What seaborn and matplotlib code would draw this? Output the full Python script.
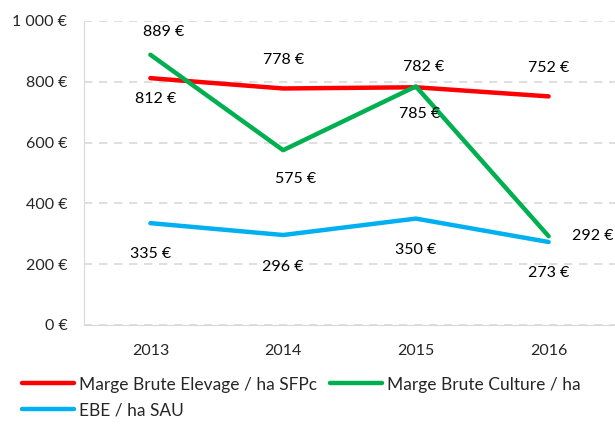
import pandas as pd
import matplotlib
matplotlib.use('Agg')
import matplotlib.pyplot as plt
import seaborn as sns

years = ['2013', '2014', '2015', '2016']
elevage = [812, 778, 782, 752]
culture = [889, 575, 785, 292]
ebe = [335, 296, 350, 273]
series_names = ['Marge Brute Elevage / ha SFPc', 'Marge Brute Culture / ha', 'EBE / ha SAU']
colors = ['#FF0000', '#00B050', '#00B0F0']

# label offsets in pixels (dx, dy) for each point
offsets = [
    [(5, -21), (0, 28), (8, 20), (0, 28)],
    [(13, 23), (12, -29), (4, -28), (44, 0)],
    [(0, -31), (0, -32), (0, -31), (0, -31)],
]

df = pd.DataFrame({
    'year': years * 3,
    'value': elevage + culture + ebe,
    'serie': [s for s in series_names for _ in years],
})

sns.set_style('white')
plt.rcParams['font.family'] = ['Lato', 'DejaVu Sans']
plt.rcParams['font.size'] = 11.5

fig = plt.figure(figsize=(6.15, 4.24), dpi=100)
ax = fig.add_axes([0.1366, 0.2335, 0.8634, 0.717])

sns.lineplot(data=df, x='year', y='value', hue='serie', palette=colors,
             linewidth=3.2, ax=ax, legend=False, sort=False)

for i, vals in enumerate([elevage, culture, ebe]):
    for j, v in enumerate(vals):
        dx, dy = offsets[i][j]
        ax.annotate(f'{v} €', (j, v), xytext=(dx, dy), textcoords='offset pixels',
                    ha='center', va='center', fontsize=11.5, color='black')

ax.set_xlim(-0.5, 3.5)
ax.set_ylim(0, 1000)
ax.set_yticks(range(0, 1001, 200))
ax.set_yticklabels(['0 €', '200 €', '400 €', '600 €', '800 €', '1 000 €'])
ax.set_xlabel('')
ax.set_ylabel('')
ax.yaxis.grid(True, linestyle=(0, (5, 4)), color='#D9D9D9', linewidth=1.2)
ax.set_axisbelow(True)
for side in ['top', 'right']:
    ax.spines[side].set_visible(False)
ax.spines['left'].set_color('#D9D9D9')
ax.spines['bottom'].set_color('#D9D9D9')
ax.tick_params(axis='y', length=0, labelsize=11.5, pad=12)
ax.tick_params(axis='x', length=0, labelsize=11.5, pad=14)

# order so rows read red, green / blue
order = [0, 2, 1]
handles = [plt.Line2D([], [], color=colors[k], linewidth=3.2) for k in order]
labels = [series_names[k] for k in order]
fig.legend(handles, labels, loc='upper left', bbox_to_anchor=(0.036, 0.112),
           ncol=2, frameon=False, fontsize=12.5, handlelength=3.0, handletextpad=0.3,
           columnspacing=0.7, labelspacing=0.55, borderaxespad=0, borderpad=0)

fig.savefig('out.png', dpi=100)
